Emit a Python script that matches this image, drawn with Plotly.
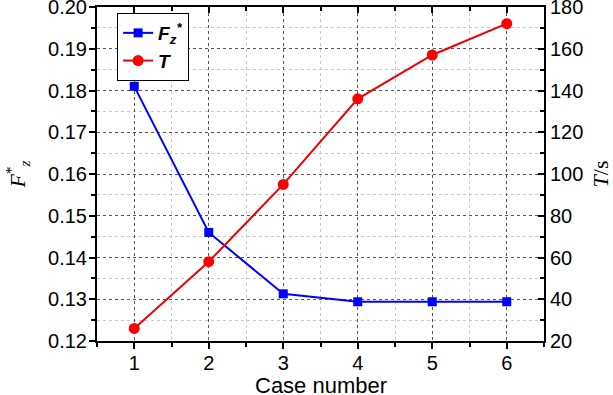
import plotly.graph_objects as go

cases = [1, 2, 3, 4, 5, 6]
fz_values = [0.181, 0.146, 0.1313, 0.1294, 0.1294, 0.1294]
t_values = [26, 58, 95, 136, 157, 172]

fz_ticks = [0.12, 0.13, 0.14, 0.15, 0.16, 0.17, 0.18, 0.19, 0.20]
t_ticks = [20, 40, 60, 80, 100, 120, 140, 160, 180]

fig = go.Figure()
fig.add_trace(go.Scatter(
    x=cases, y=fz_values, mode="lines+markers",
    name="<b><i>F<sub>z</sub><sup>*</sup></i></b>",
    line=dict(color="#0000ff", width=2),
    marker=dict(symbol="square", size=9, color="#0000ff"),
    yaxis="y"))
fig.add_trace(go.Scatter(
    x=cases, y=t_values, mode="lines+markers",
    name="<b><i>T</i></b>",
    line=dict(color="#ee0000", width=2),
    marker=dict(symbol="circle", size=11, color="#ff0000"),
    yaxis="y2"))

axis_font = dict(family="Liberation Sans, Arial", size=20, color="black")

fig.update_layout(
    width=613, height=395,
    margin=dict(l=97, r=69, t=7, b=54),
    plot_bgcolor="white", paper_bgcolor="white",
    showlegend=True,
    legend=dict(x=0.045, y=0.982, xanchor="left", yanchor="top",
                bgcolor="white", bordercolor="black", borderwidth=1,
                font=dict(family="Liberation Sans, Arial", size=19, color="black"),
                tracegroupgap=0, itemwidth=30),
    xaxis=dict(range=[0.5, 6.5], tickmode="array", tickvals=cases,
               ticktext=[str(c) for c in cases], automargin=False,
               showline=True, linecolor="black", linewidth=2, mirror=False,
               ticks="outside", ticklen=6, tickwidth=2, tickcolor="black",
               showgrid=True, gridcolor="#555555", griddash="dot", gridwidth=1,
               minor=dict(dtick=0.5, tick0=0.5, showgrid=True, gridcolor="#c8c8c8",
                          griddash="dot", ticks="outside", ticklen=4, tickwidth=1.5,
                          tickcolor="black"),
               tickfont=axis_font, zeroline=False, ticklabelstandoff=-3),
    xaxis2=dict(range=[0.5, 6.5], overlaying="x", side="top", tickvals=cases,
                showticklabels=False, showline=True, linecolor="black", linewidth=2,
                ticks="inside", ticklen=6, tickwidth=2, tickcolor="black",
                showgrid=False, zeroline=False, automargin=False,
                minor=dict(dtick=0.5, tick0=0.5, ticks="inside", ticklen=4,
                           tickwidth=1.5, tickcolor="black", showgrid=False)),
    yaxis=dict(range=[0.12, 0.20], tickmode="array", tickvals=fz_ticks,
               ticktext=[f"{v:.2f}" for v in fz_ticks], automargin=False,
               showline=True, linecolor="black", linewidth=2,
               ticks="outside", ticklen=6, tickwidth=2, tickcolor="black",
               showgrid=True, gridcolor="#555555", griddash="dot", gridwidth=1,
               minor=dict(dtick=0.005, tick0=0.12, showgrid=True, gridcolor="#c8c8c8",
                          griddash="dot", ticks="outside", ticklen=4, tickwidth=1.5,
                          tickcolor="black"),
               tickfont=axis_font, zeroline=False, ticklabeloverflow="allow",
               ticklabelstandoff=-2,
               title=dict(text="<i>F</i><sup>*</sup><sub><i>z</i></sub>",
                          font=dict(family="Liberation Serif, Times New Roman", size=22,
                                    color="black"),
                          standoff=16)),
    yaxis2=dict(range=[20, 180], overlaying="y", side="right", tickmode="array",
                tickvals=t_ticks, ticktext=[str(v) for v in t_ticks], automargin=False,
                showline=True, linecolor="black", linewidth=2,
                ticks="inside", ticklen=6, tickwidth=2, tickcolor="black",
                minor=dict(dtick=10, tick0=20, ticks="inside", ticklen=4,
                           tickwidth=1.5, tickcolor="black", showgrid=False),
                showgrid=False, zeroline=False, tickfont=axis_font,
                ticklabeloverflow="allow",
                title=dict(text="<i>T</i>/s",
                           font=dict(family="Liberation Serif, Times New Roman", size=22,
                                     color="black"),
                           standoff=20)),
    annotations=[dict(text="Case number", xref="paper", yref="paper",
                      x=0.5, y=-0.132, xanchor="center", yanchor="middle",
                      showarrow=False,
                      font=dict(family="Liberation Sans, Arial", size=22, color="black"))],
)
# invisible trace to activate top axis
fig.add_trace(go.Scatter(x=[1], y=[0.15], xaxis="x2", yaxis="y", mode="markers",
                         marker=dict(opacity=0), showlegend=False, hoverinfo="skip"))

fig.write_html("out.html", config={"displayModeBar": False},
               post_script="document.body.style.margin='0';document.body.style.overflow='hidden';")
